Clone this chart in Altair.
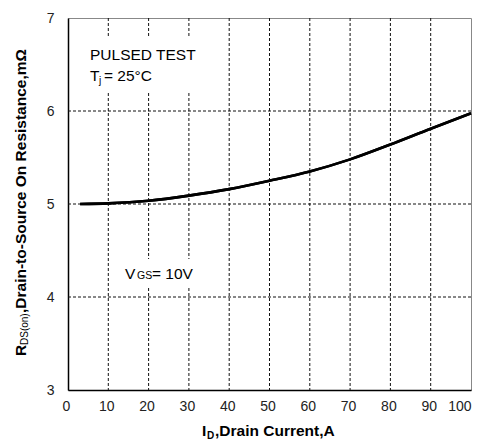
import altair as alt
import pandas as pd

# Data
current_a = [3, 10, 20, 30, 40, 50, 60, 70, 80, 90, 100]
rds_mohm = [5.00, 5.007, 5.035, 5.09, 5.16, 5.25, 5.35, 5.48, 5.64, 5.81, 5.975]
x_ticks = [0, 10, 20, 30, 40, 50, 60, 70, 80, 90, 100]
y_ticks = [3, 4, 5, 6, 7]
x_grid = [10, 20, 30, 40, 50, 60, 70, 80, 90]
y_grid = [4, 5, 6]

W, H = 403, 372
OX, OY = 68, 18  # page position of plot origin
FONT = "Liberation Sans"

xs = alt.Scale(domain=[0, 100], nice=False, zero=False)
ys = alt.Scale(domain=[3, 7], nice=False, zero=False)

ax_x = alt.Axis(values=x_ticks, title=None, grid=False, ticks=False,
                labelFont=FONT, labelFontSize=14, labelColor="#222",
                labelPadding=9,
                labelAlign={"condition": {"test": "datum.value == 100", "value": "right"},
                            "value": "center"},
                labelOffset={"condition": {"test": "datum.value == 100", "value": 0},
                             "value": -2},
                domainColor="black", domainWidth=1.5, labelFlush=False)
ax_y = alt.Axis(values=y_ticks, title=None, grid=False, ticks=False,
                labelFont=FONT, labelFontSize=14, labelColor="#222",
                labelPadding=14, domainColor="black",
                domainWidth=1.5, labelFlush=False)

df = pd.DataFrame({"I": current_a, "R": rds_mohm})

line = alt.Chart(df).mark_line(color="black", strokeWidth=2.6,
                               interpolate="monotone").encode(
    x=alt.X("I:Q", scale=xs, axis=ax_x),
    y=alt.Y("R:Q", scale=ys, axis=ax_y),
)

gx = alt.Chart(pd.DataFrame({"I": x_grid})).mark_rule(
    color="#111", strokeWidth=1, strokeDash=[3, 2]
).encode(x=alt.X("I:Q", scale=xs, axis=ax_x))
gy = alt.Chart(pd.DataFrame({"R": y_grid})).mark_rule(
    color="#111", strokeWidth=1, strokeDash=[3, 2]
).encode(y=alt.Y("R:Q", scale=ys, axis=ax_y))


def box(x1, x2, y1, y2):
    return alt.Chart(alt.Data(values=[{}])).mark_rect(color="white").encode(
        x=alt.value(x1 - OX), x2=alt.value(x2 - OX),
        y=alt.value(y1 - OY), y2=alt.value(y2 - OY))


def txt(s, x, y, size, weight="normal", angle=0):
    kw = dict(text=s, font=FONT, fontSize=size, fontWeight=weight,
              align="left", baseline="alphabetic", color="black")
    if angle:
        kw["angle"] = angle
    return alt.Chart(alt.Data(values=[{}])).mark_text(**kw).encode(
        x=alt.value(x - OX), y=alt.value(y - OY))


texts = [
    txt("PULSED TEST", 90, 60, 15.5),
    txt("T", 90, 81, 15.5),
    txt("j", 99, 84, 10),
    txt("= 25°C", 104, 81, 15.5),
    txt("V", 125, 279, 15.5),
    txt("GS", 137, 279, 10.5),
    txt("= 10V", 152, 279, 15.5),
    # x title
    txt("I", 202, 436, 15.5, "bold"),
    txt("D", 207, 439, 10, "bold"),
    txt(",Drain Current,A", 215, 436, 15.5, "bold"),
    # y title (rotated)
    txt("R", 26, 356, 15.5, "bold", 270),
    txt("DS(on)", 28, 345, 10, "normal", 270),
    txt(",Drain-to-Source On Resistance,mΩ", 26, 313, 15.5, "bold", 270),
]

chart = alt.layer(
    line, gx, gy,
    box(84, 206, 38, 93),
    box(120, 200, 259, 287),
    line,
    *texts,
).properties(
    width=W, height=H,
    autosize=alt.AutoSizeParams(type="none"),
    padding={"left": OX - 8, "top": OY - 8, "right": 1, "bottom": 50},
    background="white",
).configure_view(stroke="#888", strokeWidth=1)

chart.save("out.html", embed_options={"renderer": "svg", "actions": False})
